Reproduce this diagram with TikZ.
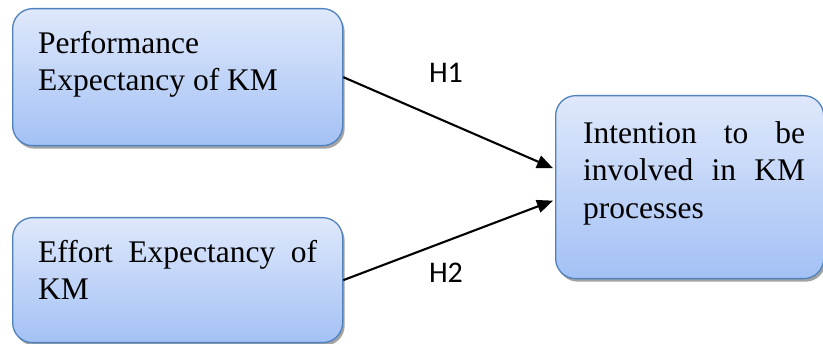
\documentclass[tikz,border=0pt]{standalone}
\usepackage{fontspec}
\setmainfont{Liberation Serif}
\newfontfamily\labelfont{Carlito}
\usetikzlibrary{arrows.meta,shadows}
\definecolor{boxtop}{HTML}{DFE8FB}
\definecolor{boxbot}{HTML}{A3C1F5}
\definecolor{boxline}{HTML}{4F81BD}
\tikzset{
  box/.style={rounded corners=20pt, draw=boxline, line width=1.3pt,
    top color=boxtop, bottom color=boxbot, anchor=north west, inner sep=0pt,
    drop shadow={shadow xshift=2pt, shadow yshift=-3pt, fill=black!45, opacity=0.8}},
  boxtext/.style={anchor=base west, inner sep=0pt,
    font=\fontsize{31.5}{37.5}\selectfont},
  conn/.style={line width=2.1pt, -{Triangle[length=16pt,width=13pt]}},
  hyp/.style={font=\labelfont\fontsize{30}{34}\selectfont, inner sep=0pt}
}
\begin{document}
\begin{tikzpicture}[x=1pt,y=-1pt]
\useasboundingbox (0,0) rectangle (823,344);
\node[box, minimum width=330pt, minimum height=137pt] (b1) at (12,8) {};
\node[box, minimum width=330pt, minimum height=125pt] (b2) at (12,217) {};
\node[box, minimum width=268pt, minimum height=183pt] (b3) at (555,95) {};
\node[boxtext] (t1) at (38,53.3) {\parbox[t]{250pt}{Performance\\Expectancy of KM}};
\node[boxtext] (t2) at (38,262.3) {\parbox[t]{279pt}{Effort\hfill Expectancy\hfill of\\KM}};
\node[boxtext] (t3) at (583,143.3) {\parbox[t]{222pt}{Intention\hfill to\hfill be\\involved\hfill in\hfill KM\\processes}};
\draw[conn] (b1.east) -- ([xshift=-2pt,yshift=19pt]b3.west);
\draw[conn] (b2.east) -- ([xshift=-2pt,yshift=-13.5pt]b3.west);
\node[hyp] (h1) at (446,73) {H1};
\node[hyp] (h2) at (446,273) {H2};
\end{tikzpicture}
\end{document}
